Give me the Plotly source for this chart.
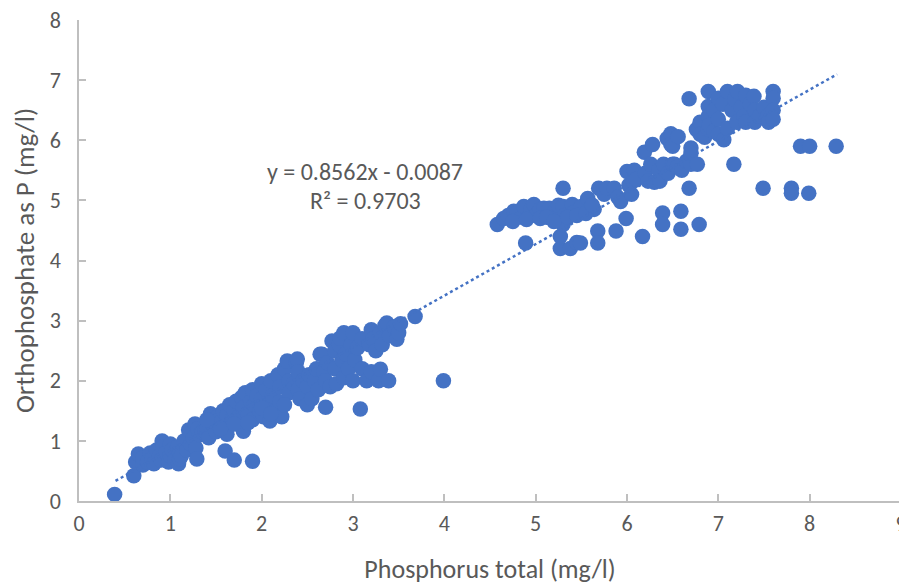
import plotly.graph_objects as go

# Phosphorus total (mg/l)
x_low = [0.39, 0.6, 0.62, 0.65, 0.7, 0.7, 0.75, 0.78, 0.8, 0.82, 0.85, 0.88, 0.9, 0.91, 0.92, 0.95, 0.98,
         1.0, 1.0, 1.02, 1.05, 1.08, 1.09, 1.1, 1.1, 1.12, 1.15, 1.18, 1.2, 1.22, 1.25, 1.27, 1.28, 1.29,
         1.3, 1.32, 1.35, 1.38, 1.4, 1.42, 1.44, 1.45, 1.48, 1.5, 1.5, 1.52, 1.55, 1.58, 1.6, 1.6, 1.62,
         1.62, 1.65, 1.68, 1.7, 1.7, 1.72, 1.75, 1.78, 1.8, 1.8, 1.8, 1.82, 1.85, 1.88, 1.9, 1.9, 1.9,
         1.92, 1.95, 1.98, 2.0, 2.0, 2.02, 2.05, 2.08, 2.09, 2.1, 2.12, 2.15, 2.18, 2.2, 2.2, 2.22, 2.25,
         2.28, 2.3, 2.3, 2.35, 2.38, 2.39, 2.4, 2.4, 2.42, 2.45, 1.4, 1.55, 1.7, 1.85, 2.0, 2.1, 2.25]
y_low = [0.11, 0.42, 0.65, 0.78, 0.6, 0.72, 0.65, 0.8, 0.7, 0.62, 0.85, 0.75, 0.68, 1.0, 0.9, 0.8, 0.65,
         0.95, 0.75, 0.85, 0.68, 0.9, 0.62, 0.8, 0.7, 0.75, 1.0, 0.85, 1.18, 0.95, 1.05, 1.28, 0.88, 0.7,
         1.2, 1.1, 1.15, 1.16, 1.2, 1.05, 1.45, 1.3, 1.22, 1.38, 1.15, 1.33, 1.3, 1.5, 1.25, 0.83, 1.42,
         1.11, 1.6, 1.35, 0.68, 1.5, 1.66, 1.4, 1.72, 1.55, 1.22, 1.16, 1.8, 1.45, 1.65, 0.66, 1.85, 1.35,
         1.6, 1.75, 1.5, 1.95, 1.7, 1.4, 1.85, 1.6, 1.33, 2.0, 1.75, 1.5, 2.1, 1.9, 1.65, 1.4, 2.2,
         2.33, 2.0, 1.8, 1.95, 2.3, 2.36, 2.15, 1.85, 1.7, 2.0, 1.35, 1.2, 1.28, 1.3, 1.55, 1.45, 1.6]

x_mid = [2.5, 2.5, 2.52, 2.55, 2.58, 2.6, 2.62, 2.64, 2.66, 2.68, 2.7, 2.7, 2.72, 2.75, 2.77, 2.8, 2.8,
         2.82, 2.85, 2.86, 2.88, 2.9, 2.9, 2.92, 2.95, 2.98, 3.0, 3.0, 3.02, 3.05, 3.08, 3.1, 3.1, 3.15,
         3.18, 3.2, 3.2, 3.22, 3.25, 3.28, 3.3, 3.3, 3.32, 3.35, 3.37, 3.39, 3.4, 3.45, 3.48, 3.5, 3.52,
         3.68, 3.99]
y_mid = [1.6, 1.9, 2.1, 1.7, 2.0, 2.2, 1.85, 2.44, 2.44, 2.15, 1.56, 2.0, 2.3, 1.9, 2.66, 2.5, 2.2,
         1.95, 2.6, 2.71, 2.35, 2.8, 2.05, 2.45, 2.2, 2.6, 2.8, 2.0, 2.35, 2.55, 1.53, 2.7, 2.2, 2.0,
         2.6, 2.85, 2.15, 2.7, 2.5, 2.0, 2.19, 2.8, 2.6, 2.92, 2.96, 2.0, 2.75, 2.9, 2.69, 2.8, 2.95,
         3.07, 2.0]

x_up = [4.58, 4.65, 4.7, 4.76, 4.8, 4.85, 4.87, 4.89, 4.95, 4.98, 5.0, 5.05, 5.09, 5.15, 5.2, 5.25,
        5.27, 5.27, 5.3, 5.3, 5.3, 5.32, 5.38, 5.4, 5.42, 5.45, 5.49, 5.5, 5.57, 5.6, 5.64, 5.68, 5.68,
        5.69, 5.75, 5.78, 5.86, 5.88, 5.9, 5.93, 5.99, 6.0, 6.02, 6.05, 6.07, 6.08, 6.1, 6.17, 6.19,
        6.2, 6.23, 6.26, 6.28, 6.3, 6.35, 6.36, 6.39, 6.39, 6.4, 6.44, 6.45, 6.48, 6.48, 6.5, 6.5, 6.52,
        6.55, 6.56, 6.59, 6.59, 6.6, 6.65, 6.68, 6.7, 6.7, 6.7, 6.77, 6.79,
        4.75, 4.9, 5.05, 5.12, 5.2, 5.35, 5.45, 5.55, 5.62]
y_up = [4.6, 4.7, 4.75, 4.82, 4.8, 4.72, 4.9, 4.29, 4.85, 4.93, 4.75, 4.85, 4.87, 4.87, 4.8, 4.92,
        4.2, 4.4, 5.2, 4.9, 4.6, 4.75, 4.2, 4.93, 4.8, 4.3, 4.29, 4.9, 5.03, 4.87, 4.85, 4.49, 4.29,
        5.2, 5.1, 5.2, 5.2, 4.49, 5.05, 4.98, 4.7, 5.48, 5.25, 5.1, 5.32, 5.5, 5.35, 4.4, 5.8,
        5.45, 5.32, 5.6, 5.93, 5.3, 5.5, 5.32, 4.79, 4.6, 5.6, 6.03, 5.45, 6.11, 5.93, 5.9, 5.6, 5.6,
        5.55, 6.06, 4.82, 4.52, 5.5, 5.65, 5.2, 5.87, 5.6, 5.78, 5.6, 4.6,
        4.65, 4.68, 4.7, 4.72, 4.65, 4.72, 4.75, 4.78, 4.92]

x_top = [6.68, 6.76, 6.8, 6.8, 6.85, 6.89, 6.89, 6.89, 6.89, 6.9, 6.95, 6.95, 7.0, 7.0, 7.0, 7.05,
         7.06, 7.1, 7.1, 7.15, 7.17, 7.18, 7.2, 7.21, 7.25, 7.28, 7.3, 7.3, 7.35, 7.39, 7.4, 7.4, 7.45,
         7.49, 7.5, 7.54, 7.55, 7.6, 7.6, 7.6, 7.6, 7.8, 7.8, 7.9, 7.99, 8.0, 8.29]
y_top = [6.69, 6.18, 6.3, 6.1, 6.05, 6.81, 6.56, 6.4, 6.18, 6.25, 6.5, 6.15, 6.7, 6.35, 6.1, 6.6,
         6.01, 6.81, 6.2, 6.5, 5.6, 6.68, 6.3, 6.81, 6.55, 6.4, 6.75, 6.3, 6.6, 6.73, 6.5, 6.3, 6.4,
         5.2, 6.55, 6.4, 6.3, 6.81, 6.7, 6.5, 6.35, 5.2, 5.12, 5.9, 5.12, 5.9, 5.9]

phos_total = x_low + x_mid + x_up + x_top
ortho_p = y_low + y_mid + y_up + y_top

slope = 0.8562
intercept = -0.0087
trend_x = [0.4, 8.3]
trend_y = [slope * v + intercept for v in trend_x]

x_ticks = [0, 1, 2, 3, 4, 5, 6, 7, 8, 9]
y_ticks = [0, 1, 2, 3, 4, 5, 6, 7, 8]

BLUE = "#4472C4"
GREY = "#595959"
AXIS = "#bfbfbf"
FONT = "Carlito, Lato, sans-serif"

fig = go.Figure()
fig.add_trace(go.Scatter(x=phos_total, y=ortho_p, mode="markers",
                         marker=dict(color=BLUE, size=15.5, line=dict(width=0)),
                         showlegend=False, hoverinfo="x+y"))
fig.add_trace(go.Scatter(x=trend_x, y=trend_y, mode="lines",
                         line=dict(color=BLUE, width=2.5, dash="dot"),
                         showlegend=False, hoverinfo="skip"))

fig.add_annotation(x=3.13, y=5.48, xref="x", yref="y", text="y = 0.8562x - 0.0087",
                   showarrow=False, font=dict(size=24, color=GREY, family=FONT))
fig.add_annotation(x=3.14, y=5.0, xref="x", yref="y", text="R² = 0.9703",
                   showarrow=False, font=dict(size=24, color=GREY, family=FONT))

fig.update_layout(
    width=899, height=577,
    margin=dict(l=71, r=6, t=12, b=84, autoexpand=False),
    paper_bgcolor="white", plot_bgcolor="white",
    font=dict(family=FONT, color=GREY, size=16),
    xaxis=dict(range=[0, 9], tickvals=x_ticks, ticktext=[str(v) for v in x_ticks],
               automargin=False, ticklabeloverflow="allow",
               showgrid=False, zeroline=False, showline=True, linecolor=AXIS, linewidth=1.5,
               ticks="inside", ticklen=7, tickcolor=AXIS, tickwidth=1.5,
               ticklabelstandoff=2,
               tickfont=dict(size=22, color=GREY, family=FONT),
               title=dict(text="Phosphorus total (mg/l)", font=dict(size=26, color=GREY, family=FONT),
                          standoff=26)),
    yaxis=dict(range=[0, 8], tickvals=y_ticks, ticktext=[str(v) for v in y_ticks],
               automargin=False, ticklabeloverflow="allow",
               showgrid=False, zeroline=False, showline=True, linecolor=AXIS, linewidth=1.5,
               ticks="inside", ticklen=7, tickcolor=AXIS, tickwidth=1.5,
               ticklabelstandoff=12,
               tickfont=dict(size=22, color=GREY, family=FONT),
               title=dict(text="Orthophosphate as P (mg/l)", font=dict(size=27, color=GREY, family=FONT),
                          standoff=10)),
)

fig.write_html("out.html")
